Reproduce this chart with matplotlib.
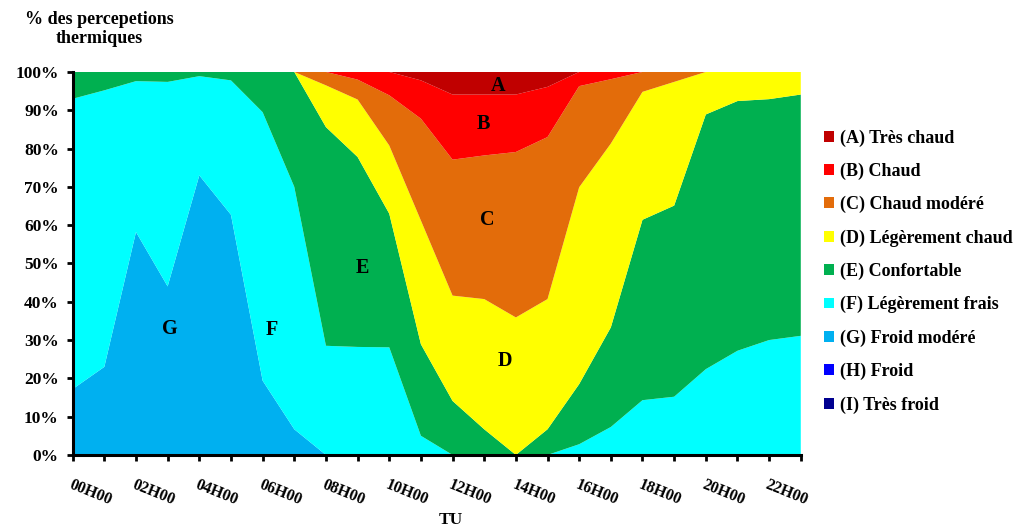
import matplotlib
matplotlib.use('Agg')
import matplotlib.pyplot as plt
from matplotlib.patches import Patch

# Heures (TU) et libellés de l'axe x
heures = list(range(24))
etiquettes_x = [f"{h:02d}H00" if h % 2 == 0 else "" for h in heures]

# Pourcentages des perceptions thermiques par classe
tres_chaud = [0, 0, 0, 0, 0, 0, 0, 0, 0, 0, 0, 2.2, 5.9, 5.9, 5.9, 3.9,
              0, 0, 0, 0, 0, 0, 0, 0]
chaud = [0, 0, 0, 0, 0, 0, 0, 0, 0, 2.0, 6.1, 10.0, 17.0, 15.9, 15.0, 13.1,
         3.7, 1.9, 0, 0, 0, 0, 0, 0]
chaud_modere = [0, 0, 0, 0, 0, 0, 0, 0, 3.5, 5.2, 13.1, 26.6, 35.5, 37.5,
                43.2, 42.3, 26.4, 16.8, 5.2, 2.6, 0, 0, 0, 0]
leg_chaud = [0, 0, 0, 0, 0, 0, 0, 0, 10.9, 15.0, 17.8, 32.3, 27.5, 34.0,
             35.9, 34.0, 51.4, 48.0, 33.4, 32.3, 11.1, 7.6, 7.1, 5.9]
confortable = [7.0, 4.8, 2.4, 2.6, 1.1, 2.2, 10.5, 30.0, 57.1, 49.6, 34.9,
               23.9, 14.1, 6.7, 0, 6.7, 15.7, 26.0, 47.1, 49.9, 66.5, 65.2,
               62.9, 63.0]
leg_frais = [75.8, 72.2, 39.4, 53.4, 25.9, 35.1, 70.1, 63.3, 28.5, 28.2, 28.1,
             5.0, 0, 0, 0, 0, 2.8, 7.3, 14.3, 15.2, 22.4, 27.2, 30.0, 31.1]
froid_modere = [17.2, 23.0, 58.2, 44.0, 73.0, 62.7, 19.4, 6.7, 0, 0, 0, 0,
                0, 0, 0, 0, 0, 0, 0, 0, 0, 0, 0, 0]
froid = [0] * 24
tres_froid = [0] * 24

libelles = ["(A) Très chaud", "(B) Chaud", "(C) Chaud modéré",
            "(D) Légèrement chaud", "(E) Confortable", "(F) Légèrement frais",
            "(G) Froid modéré", "(H) Froid", "(I) Très froid"]
couleurs = ["#C00000", "#FF0000", "#E36C0A", "#FFFF00", "#00B050",
            "#00FFFF", "#00B0F0", "#0000FF", "#000090"]

police = {'family': 'Liberation Serif', 'weight': 'bold'}

fig = plt.figure(figsize=(10.31, 5.29), dpi=100)
ax = fig.add_axes([0.0705, 0.140, 0.7062, 0.7240])

# Empilement du bas (I) vers le haut (A)
series = [tres_froid, froid, froid_modere, leg_frais, confortable,
          leg_chaud, chaud_modere, chaud, tres_chaud]
ax.stackplot(heures, *series, colors=couleurs[::-1], linewidth=0)

ax.set_xlim(0, 23)
ax.set_ylim(0, 100)

# Axes
for cote in ['top', 'right']:
    ax.spines[cote].set_visible(False)
for cote in ['left', 'bottom']:
    ax.spines[cote].set_linewidth(2.2)
    ax.spines[cote].set_zorder(5)

ax.set_yticks(range(0, 101, 10))
ax.set_yticklabels([f"{v}%" for v in range(0, 101, 10)], fontdict=police,
                   fontsize=12.5)
ax.tick_params(axis='y', direction='out', length=4, width=2, pad=6)

ax.set_xticks(heures)
ax.set_xticklabels(etiquettes_x, fontdict=police, fontsize=11.5,
                   rotation=-22, ha='left', va='top', rotation_mode='anchor')
ax.tick_params(axis='x', direction='out', length=4, width=2, pad=12)

# Titres des axes
fig.text(99 / 1031, 1 - 29 / 529, "% des percepetions\nthermiques",
         ha='center', va='center', fontsize=13, linespacing=1.2, **police)
fig.text(451 / 1031, 1 - 520 / 529, "TU", ha='center', va='center',
         fontsize=12.5, **police)

# Lettres dans les zones
lettres = [("A", 13.44, 96.3), ("B", 12.96, 86.4), ("C", 13.09, 61.4),
           ("D", 13.66, 24.5), ("E", 9.14, 48.8), ("F", 6.30, 32.6),
           ("G", 3.07, 32.8)]
for lettre, xx, yy in lettres:
    ax.text(xx, yy, lettre, ha='center', va='center', fontsize=14.5, **police)

# Légende
poignees = [Patch(facecolor=c, edgecolor='none') for c in couleurs]
leg = fig.legend(poignees, libelles, loc='upper left',
                 bbox_to_anchor=(808 / 1031, 1 - 113 / 529),
                 frameon=False, handlelength=0.55, handleheight=0.55,
                 handletextpad=0.3, labelspacing=0.89,
                 prop={'family': 'Liberation Serif', 'weight': 'bold',
                       'size': 13})

fig.savefig('out.png', dpi=100)
